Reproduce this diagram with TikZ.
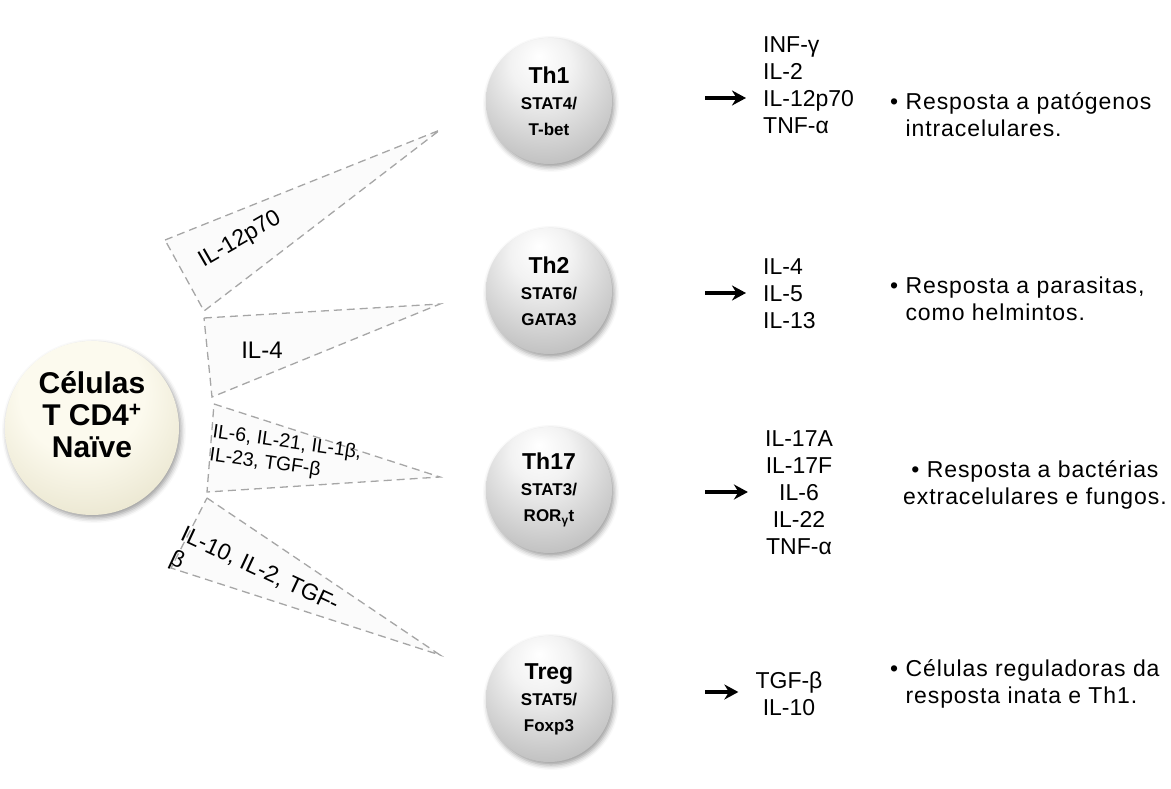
\documentclass[tikz,border=0pt]{standalone}
\usepackage{fontspec}
\setmainfont{Liberation Sans}
\usetikzlibrary{arrows.meta, positioning, shadows.blur}

\definecolor{creamhi}{RGB}{252,250,238}
\definecolor{creammid}{RGB}{226,221,194}
\definecolor{creamlo}{RGB}{172,166,136}
\pgfdeclareradialshading{thball}{\pgfpoint{-4bp}{18bp}}{%
  color(0bp)=(white); color(12bp)=(white!95!black); color(34bp)=(white!76!black);
  color(52bp)=(white!55!black); color(68bp)=(white!40!black)}
\pgfdeclareradialshading{naiveball}{\pgfpoint{-4bp}{14bp}}{%
  color(0bp)=(creamhi); color(18bp)=(creamhi); color(42bp)=(creammid);
  color(58bp)=(creamlo); color(68bp)=(creamlo!80!black)}

\begin{document}
\begin{tikzpicture}[x=1pt, y=-1pt,
    every node/.style={font=\fontsize{23}{27}\selectfont},
    naive/.style={circle, minimum size=174pt, inner sep=0pt, shading=naiveball,
        blur shadow={shadow xshift=2pt, shadow yshift=-3pt, shadow blur radius=5pt, shadow opacity=40}},
    naivetext/.style={align=center, inner sep=0pt, font=\bfseries\fontsize{30}{32}\selectfont},
    thcell/.style={circle, minimum size=126pt, inner sep=0pt, shading=thball,
        blur shadow={shadow xshift=2pt, shadow yshift=-3pt, shadow blur radius=5pt, shadow opacity=40},
        align=center, font=\bfseries\fontsize{17}{26}\selectfont},
    wedge/.style={draw=gray!70, fill=gray!3, line width=1.3pt, dash pattern=on 8pt off 5pt},
    wlabel/.style={font=\fontsize{23}{26}\selectfont, inner sep=0pt},
    cyto/.style={font=\fontsize{23}{27}\selectfont, inner sep=2pt},
    resp/.style={font=\fontsize{23}{27}\selectfont\addfontfeature{LetterSpace=4}, inner sep=0pt},
    arr/.style={-{Stealth[length=14pt, width=15pt]}, line width=3.4pt, shorten >=15pt}
]
\useasboundingbox (0,0) rectangle (1171,789);

% Cytokine wedges
\draw[wedge] (165,240) -- (440,130) -- (204,311) -- cycle;
\draw[wedge] (204,318) -- (440,304) -- (212,397) -- cycle;
\draw[wedge] (214,404) -- (440,477) -- (207,492) -- cycle;
\draw[wedge] (207,498) -- (440,655) -- (171,568) -- cycle;
\node[wlabel, rotate=30] (l1) at (240,240) {IL-12p70};
\node[wlabel, font=\fontsize{24}{26}\selectfont] (l2) at (262,350) {IL-4};
\node[wlabel, font=\fontsize{19.5}{23}\selectfont, rotate=-8, anchor=west, align=left] (l3) at (211,444) {IL-6, IL-21, IL-1β,\\IL-23, TGF-β};
\node[wlabel, rotate=-25, anchor=north west, align=left] (l4) at (186,525) {IL-10, IL-2, TGF-\\β};

% Cells
\node[naive] (naive) at (92,428) {};
\node[naivetext] (naivelbl) at ([yshift=13pt]naive.center) {Células\\T CD4\textsuperscript{+}\\Naïve};
\node[thcell] (th1) at (549,101) {{\fontsize{23}{26}\selectfont Th1}\\STAT4/\\T-bet};
\node[thcell] (th2) at (549,291) {{\fontsize{23}{26}\selectfont Th2}\\STAT6/\\GATA3};
\node[thcell] (th17) at (549,490) {{\fontsize{23}{26}\selectfont Th17}\\STAT3/\\ROR\textsubscript{γ}t};
\node[thcell] (treg) at (549,699) {{\fontsize{23}{26}\selectfont Treg}\\STAT5/\\Foxp3};

% Cytokines
\node[cyto, anchor=west, align=left] (cy1) at (761,85) {INF-γ\\IL-2\\IL-12p70\\TNF-α};
\node[cyto, anchor=west, align=left] (cy2) at (761,294) {IL-4\\IL-5\\IL-13};
\node[cyto, align=center] (cy3) at (799,493) {IL-17A\\IL-17F\\IL-6\\IL-22\\TNF-α};
\node[cyto, align=center] (cy4) at (789,694) {TGF-β\\IL-10};

% Arrows
\coordinate (a1) at (705,98);
\coordinate (a2) at (705,293);
\coordinate (a3) at (705,492);
\coordinate (a4) at (705,692);
\draw[arr] (a1) -- (a1 -| cy1.west);
\draw[arr] (a2) -- (a2 -| cy2.west);
\draw[arr] (a3) -- (a3 -| cy3.west);
\draw[arr] (a4) -- (a4 -| cy4.west);

% Responses
\node[resp, anchor=west, align=left] (r1) at (890,115) {•~Resposta a patógenos\\\phantom{•~}intracelulares.};
\node[resp, anchor=west, align=left] (r2) at (890,299) {•~Resposta a parasitas,\\\phantom{•~}como helmintos.};
\node[resp, align=center] (r3) at (1035,485) {•~Resposta a bactérias\\extracelulares e fungos.};
\node[resp, anchor=west, align=left] (r4) at (890,684) {•~Células reguladoras da\\\phantom{•~}resposta inata e Th1.};
\end{tikzpicture}
\end{document}
